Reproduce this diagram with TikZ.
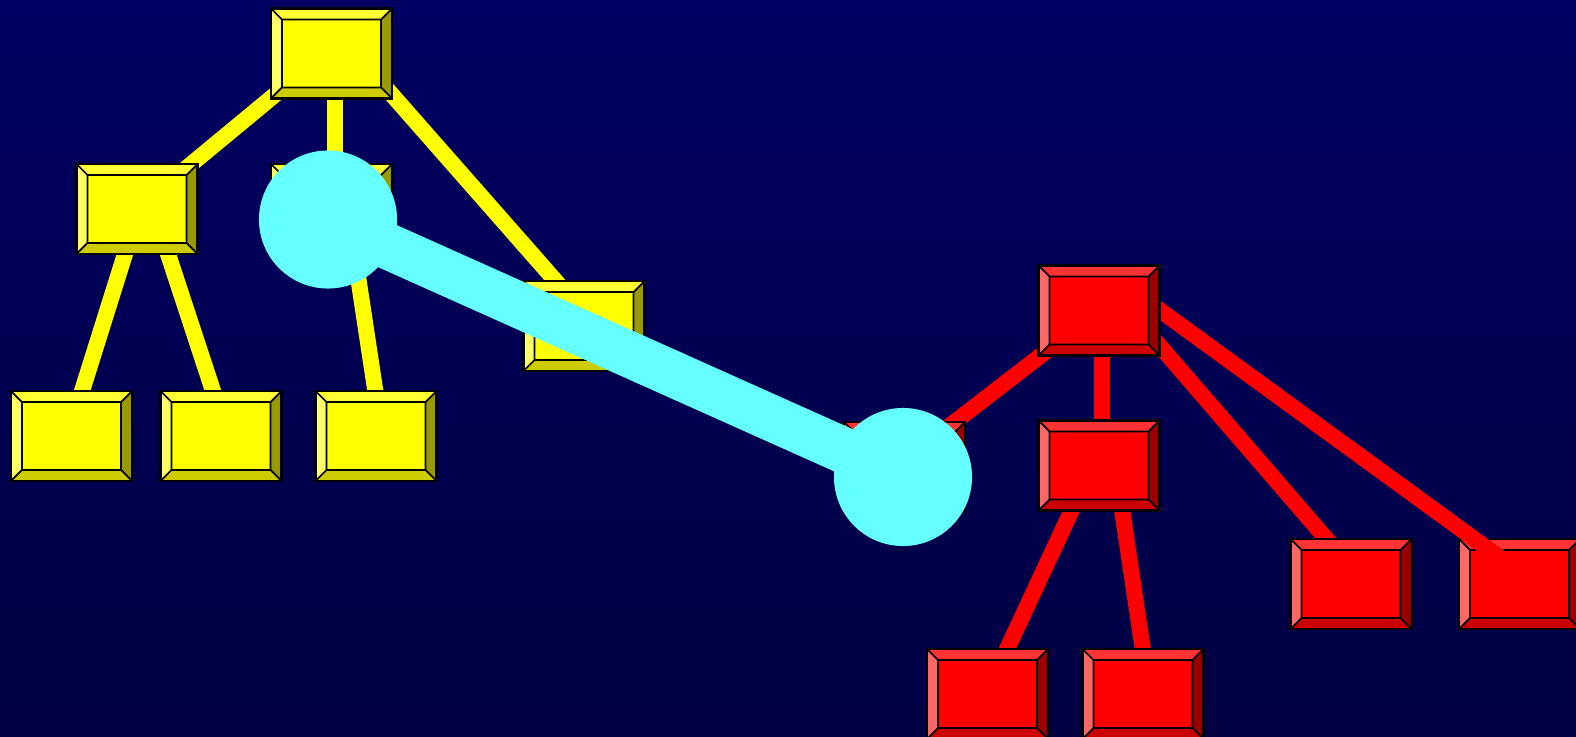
\documentclass[tikz,border=0pt]{standalone}
\usepackage{tikz}
\usetikzlibrary{calc}
\definecolor{bgtop}{RGB}{0,0,98}
\definecolor{bgmid}{RGB}{0,0,92}
\definecolor{bgbot}{RGB}{0,0,66}
\definecolor{yface}{RGB}{255,255,0}
\definecolor{ytop}{RGB}{255,255,51}
\definecolor{yleft}{RGB}{255,255,102}
\definecolor{yright}{RGB}{153,153,0}
\definecolor{ybot}{RGB}{204,204,0}
\definecolor{rface}{RGB}{255,0,0}
\definecolor{rtop}{RGB}{255,51,51}
\definecolor{rleft}{RGB}{255,102,102}
\definecolor{rright}{RGB}{153,0,0}
\definecolor{rbot}{RGB}{204,0,0}
\definecolor{ringcyan}{RGB}{102,255,255}
\newcommand{\bevw}{0.11cm}
\pgfdeclarelayer{bg}
\pgfdeclarelayer{links}
\pgfsetlayers{bg,links,main}
\tikzset{
	tile/.style={draw=black, line width=0.6pt, fill=#1face, minimum width=1.21cm, minimum height=0.9cm, inner sep=0pt,
		path picture={
			\coordinate (a) at (path picture bounding box.north west);
			\coordinate (b) at (path picture bounding box.north east);
			\coordinate (c) at (path picture bounding box.south east);
			\coordinate (d) at (path picture bounding box.south west);
			\coordinate (ia) at ($(a)+(\bevw,-\bevw)$);
			\coordinate (ib) at ($(b)+(-\bevw,-\bevw)$);
			\coordinate (ic) at ($(c)+(-\bevw,\bevw)$);
			\coordinate (id) at ($(d)+(\bevw,\bevw)$);
			\fill[#1top] (a)--(b)--(ib)--(ia)--cycle;
			\fill[#1right] (b)--(c)--(ic)--(ib)--cycle;
			\fill[#1bot] (c)--(d)--(id)--(ic)--cycle;
			\fill[#1left] (d)--(a)--(ia)--(id)--cycle;
			\draw[black, line width=0.5pt] (a)--(ia) (b)--(ib) (c)--(ic) (d)--(id) (ia)--(ib)--(ic)--(id)--cycle;
		}},
	ylink/.style={yface, line width=0.16cm},
	rlink/.style={rface, line width=0.16cm},
	ring/.style={circle, fill=ringcyan, minimum size=1.38cm, inner sep=0pt},
	ringlink/.style={ringcyan, line width=0.46cm}
}
\begin{document}
\begin{tikzpicture}[x=0.01cm, y=-0.01cm]
	\useasboundingbox (0,0) rectangle (1576,737);
	\begin{pgfonlayer}{bg}
		\shade[top color=bgtop, middle color=bgmid, bottom color=bgbot] (0,0) rectangle (1576,737);
	\end{pgfonlayer}
	\node[tile=y] (y0) at (331.5,53.5) {};
	\node[tile=y] (y1) at (137,209) {};
	\node[tile=y] (y2) at (331.5,209) {};
	\node[tile=y] (y3) at (584,326) {};
	\node[tile=y] (y4) at (71.5,436) {};
	\node[tile=y] (y5) at (221,436) {};
	\node[tile=y] (y6) at (376,436) {};
	\node[tile=r] (r0) at (1099,310.5) {};
	\node[tile=r] (r1) at (904.5,467) {};
	\node[tile=r] (r2) at (1099,465.5) {};
	\node[tile=r] (r3) at (1351,584) {};
	\node[tile=r] (r5) at (987.5,694) {};
	\node[tile=r] (r6) at (1143,694) {};
	\begin{pgfonlayer}{links}
		\node[tile=r] (r4) at (1519.5,584) {};
		\draw[ylink] (y1.center)--($(y0)+(0,-5.5)$);
		\draw[ylink] ($(y0)+(3.5,0)$)--($(y2)+(3.5,0)$);
		\draw[ylink] ($(y0)+(47.5,26.5)$)--($(y3)+(-16,-31)$);
		\draw[ylink] ($(y1)+(-7.6,31)$)--($(y4)+(7.7,-36)$);
		\draw[ylink] ($(y1)+(26.4,31)$)--($(y5)+(-5,-36)$);
		\draw[ylink] ($(y2)+(21,31)$)--($(y6)+(0.7,-36)$);
		\draw[rlink] (r0.center)--($(r1)+(-8,0)$);
		\draw[rlink] ($(r0)+(3,0)$)--($(r2)+(3,0)$);
		\draw[rlink] ($(r0)+(47,19.5)$)--($(r3)+(-15,-34)$);
		\draw[rlink] ($(r0)+(51,-7.5)$)--($(r4)+(-9.5,-19)$);
		\draw[rlink] ($(r2)+(-20.6,30.5)$)--($(r5)+(14.5,-34)$);
		\draw[rlink] ($(r2)+(21,30.5)$)--($(r6)+(1.4,-34)$);
	\end{pgfonlayer}
	\node[ring] (c1) at (328,219.5) {};
	\node[ring] (c2) at (903,477) {};
	\draw[ringlink] (c1.center)--(c2.center);
\end{tikzpicture}
\end{document}
